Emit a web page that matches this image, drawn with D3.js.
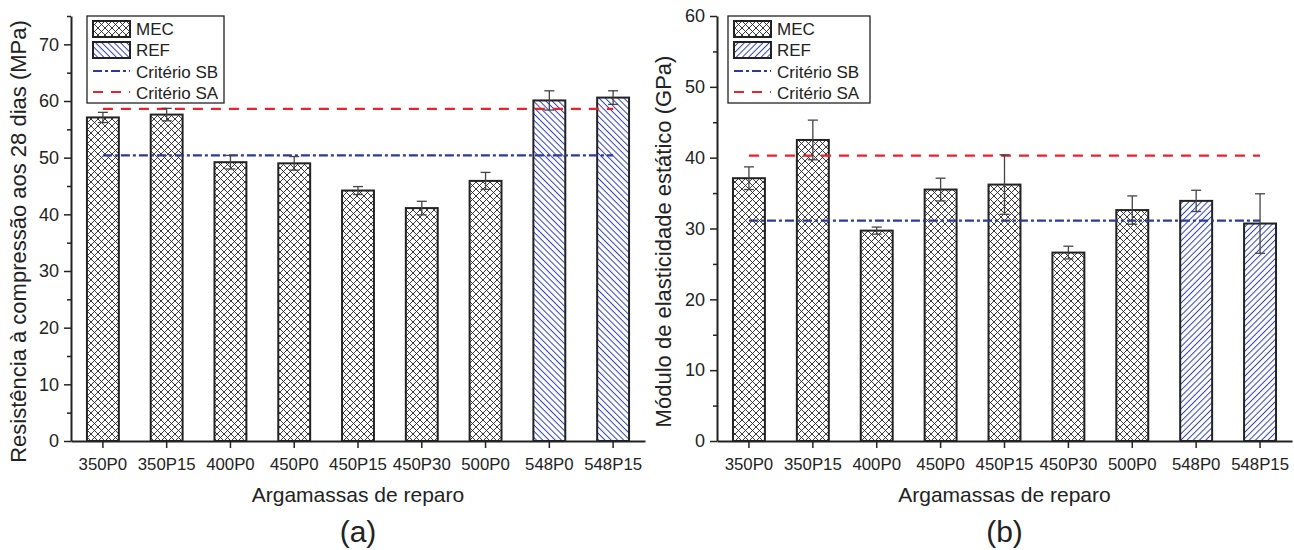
<!DOCTYPE html>
<html>
<head>
<meta charset="utf-8">
<script src="https://cdn.jsdelivr.net/npm/d3@7"></script>
<style>
  body { margin: 0; background: #fff; }
  svg { font-family: "Liberation Sans", Arial, sans-serif; }
</style>
</head>
<body>
<svg id="chart" width="1294" height="550"></svg>
<script>
const categories = ['350P0', '350P15', '400P0', '450P0', '450P15', '450P30', '500P0', '548P0', '548P15']
const groups = ['MEC', 'MEC', 'MEC', 'MEC', 'MEC', 'MEC', 'MEC', 'REF', 'REF']

const compValues = [57.1, 57.6, 49.2, 49.0, 44.2, 41.1, 45.9, 60.1, 60.6]
const compErrors = [0.9, 1.1, 1.2, 1.2, 0.7, 1.2, 1.5, 1.7, 1.2]
const compSB = 50.4
const compSA = 58.6
const compTicks = [0, 10, 20, 30, 40, 50, 60, 70]

const modValues = [37.1, 42.5, 29.7, 35.5, 36.2, 26.6, 32.6, 33.9, 30.7]
const modErrors = [1.6, 2.8, 0.5, 1.6, 4.2, 0.9, 2.0, 1.5, 4.2]
const modSB = 31.1
const modSA = 40.3
const modTicks = [0, 10, 20, 30, 40, 50, 60]

const legendLabels = ['MEC', 'REF', 'Critério SB', 'Critério SA']

const svg = d3.select('#chart')
const defs = svg.append('defs')

// hatch patterns
function crossPattern(id) {
  const p = defs.append('pattern').attr('id', id).attr('patternUnits', 'userSpaceOnUse')
    .attr('width', 7).attr('height', 7)
  p.append('rect').attr('width', 7).attr('height', 7).attr('fill', '#fff')
  p.append('path').attr('d', 'M0,0L7,7M-1,6L1,8M6,-1L8,1M0,7L7,0M-1,1L1,-1M6,8L8,6')
    .attr('stroke', '#222').attr('stroke-width', 0.9)
}
function diagPattern(id, angle) {
  const p = defs.append('pattern').attr('id', id).attr('patternUnits', 'userSpaceOnUse')
    .attr('width', 4.4).attr('height', 10).attr('patternTransform', `rotate(${angle})`)
  p.append('rect').attr('width', 4.4).attr('height', 10).attr('fill', '#fff')
  p.append('line').attr('x1', 2.2).attr('x2', 2.2).attr('y1', -1).attr('y2', 11)
    .attr('stroke', '#2f40b5').attr('stroke-width', 1)
}
crossPattern('cross')
diagPattern('diagBack', -45)
diagPattern('diagFwd', 45)

function drawPanel(opt) {
  const { left, right, top, bottom, ymax, values, errors, sb, sa, ticks, refFill, title, letter } = opt
  const g = svg.append('g')

  const x = d3.scaleBand().domain(categories).range([left, right]).paddingInner(0.5).paddingOuter(0.25)
  const y = d3.scaleLinear().domain([0, ymax]).range([bottom, top])

  // y axis with minor ticks
  const minor = d3.range(5, ymax + 0.01, 10)
  g.append('g').attr('transform', `translate(${left},0)`)
    .call(d3.axisLeft(y).tickValues(minor).tickSize(4).tickFormat(''))
    .call(a => a.select('.domain').remove())
    .call(a => a.selectAll('line').attr('stroke', '#222').attr('stroke-width', 1.5))
  const ya = g.append('g').attr('transform', `translate(${left},0)`)
    .call(d3.axisLeft(y).tickValues(ticks).tickSize(7).tickSizeOuter(0).tickPadding(5))
  ya.select('.domain').attr('stroke', '#222').attr('stroke-width', 2)
  ya.selectAll('line').attr('stroke', '#222').attr('stroke-width', 1.5)
  ya.selectAll('text').attr('font-size', 18).attr('fill', '#222')
    .attr('font-family', '"Liberation Sans", Arial, sans-serif')

  const xa = g.append('g').attr('transform', `translate(0,${bottom})`)
    .call(d3.axisBottom(x).tickSize(7).tickSizeOuter(0).tickPadding(10))
  xa.select('.domain').attr('stroke', '#222').attr('stroke-width', 2)
  xa.selectAll('line').attr('stroke', '#222').attr('stroke-width', 1.5)
  xa.selectAll('text').attr('font-size', 16.8).attr('fill', '#222')
    .attr('font-family', '"Liberation Sans", Arial, sans-serif')

  // bars
  g.selectAll('rect.bar').data(categories).enter().append('rect')
    .attr('x', d => x(d))
    .attr('y', (d, i) => y(values[i]))
    .attr('width', x.bandwidth())
    .attr('height', (d, i) => bottom - y(values[i]))
    .attr('fill', (d, i) => groups[i] === 'MEC' ? 'url(#cross)' : `url(#${refFill})`)
    .attr('stroke', '#222').attr('stroke-width', 2)

  // criteria lines
  const c0 = x(categories[0]) + x.bandwidth() / 2
  const c1 = x(categories[categories.length - 1]) + x.bandwidth() / 2
  g.append('line').attr('x1', c0).attr('x2', c1).attr('y1', y(sa)).attr('y2', y(sa))
    .attr('stroke', '#e8232b').attr('stroke-width', 2.2).attr('stroke-dasharray', '10,8')
  g.append('line').attr('x1', c0).attr('x2', c1).attr('y1', y(sb)).attr('y2', y(sb))
    .attr('stroke', '#2c3a98').attr('stroke-width', 2.2).attr('stroke-dasharray', '9,3,3,3')

  // error bars
  categories.forEach((c, i) => {
    const cx = x(c) + x.bandwidth() / 2
    const hi = y(values[i] + errors[i]), lo = y(values[i] - errors[i])
    const eb = g.append('g').attr('stroke', '#444').attr('stroke-width', 1.3)
    eb.append('line').attr('x1', cx).attr('x2', cx).attr('y1', hi).attr('y2', lo)
    eb.append('line').attr('x1', cx - 5).attr('x2', cx + 5).attr('y1', hi).attr('y2', hi)
    eb.append('line').attr('x1', cx - 5).attr('x2', cx + 5).attr('y1', lo).attr('y2', lo)
  })

  // legend
  const lx = opt.legendX, ly = top
  const lg = g.append('g')
  lg.append('rect').attr('x', lx).attr('y', ly).attr('width', opt.legendW).attr('height', 87)
    .attr('fill', '#fff').attr('stroke', '#222').attr('stroke-width', 1.3)
  const swX = lx + 6, swW = 37
  lg.append('rect').attr('x', swX).attr('y', ly + 5).attr('width', swW).attr('height', 16)
    .attr('fill', 'url(#cross)').attr('stroke', '#222').attr('stroke-width', 2)
  lg.append('rect').attr('x', swX).attr('y', ly + 26).attr('width', swW).attr('height', 16)
    .attr('fill', `url(#${refFill})`).attr('stroke', '#222').attr('stroke-width', 2)
  lg.append('line').attr('x1', swX).attr('x2', swX + swW).attr('y1', ly + 55).attr('y2', ly + 55)
    .attr('stroke', '#2c3a98').attr('stroke-width', 2.2).attr('stroke-dasharray', '9,3,3,3')
  lg.append('line').attr('x1', swX).attr('x2', swX + swW).attr('y1', ly + 76).attr('y2', ly + 76)
    .attr('stroke', '#e8232b').attr('stroke-width', 2.2).attr('stroke-dasharray', '10,8')
  legendLabels.forEach((t, i) => {
    lg.append('text').attr('x', swX + swW + 6).attr('y', ly + 13 + i * 21.5).attr('dy', '0.35em')
      .attr('font-size', 17).attr('fill', '#222').text(t)
  })

  // titles
  svg.append('text').attr('transform', `translate(${opt.yTitleX},${(top + bottom) / 2 + 13}) rotate(-90)`)
    .attr('text-anchor', 'middle').attr('font-size', 22).attr('fill', '#222').text(title)
  svg.append('text').attr('x', (left + right) / 2).attr('y', 502).attr('text-anchor', 'middle')
    .attr('font-size', 21).attr('fill', '#222').text('Argamassas de reparo')
  svg.append('text').attr('x', (left + right) / 2).attr('y', 542).attr('text-anchor', 'middle')
    .attr('font-size', 30).attr('fill', '#222').text(letter)
}

drawPanel({
  left: 71, right: 645, top: 16, bottom: 441, ymax: 75,
  values: compValues, errors: compErrors, sb: compSB, sa: compSA, ticks: compTicks,
  refFill: 'diagBack', title: 'Resistência à compressão aos 28 dias (MPa)', letter: '(a)',
  legendX: 87, legendW: 137, yTitleX: 26
})
drawPanel({
  left: 717, right: 1292, top: 16, bottom: 441, ymax: 60,
  values: modValues, errors: modErrors, sb: modSB, sa: modSA, ticks: modTicks,
  refFill: 'diagFwd', title: 'Módulo de elasticidade estático (GPa)', letter: '(b)',
  legendX: 728, legendW: 142, yTitleX: 671
})
</script>
</body>
</html>
